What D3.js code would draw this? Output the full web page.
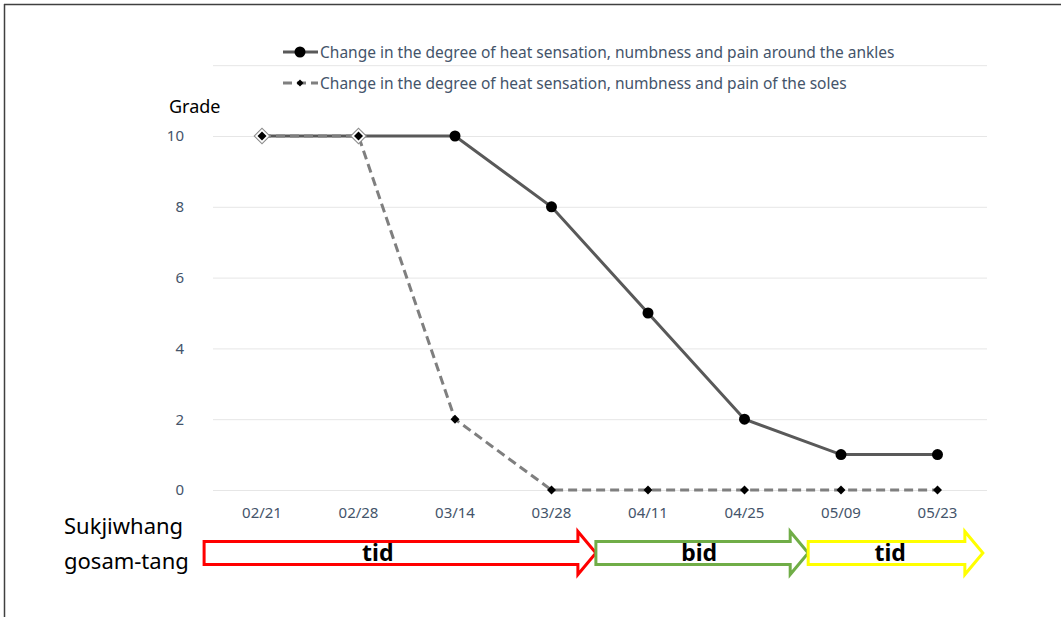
<!DOCTYPE html>
<html>
<head>
<meta charset="utf-8">
<script src="https://cdn.jsdelivr.net/npm/d3@7"></script>
<style>
  html, body { margin: 0; padding: 0; background: #fff; }
  svg { display: block; font-family: "Noto Sans", "Noto Sans CJK KR", sans-serif; }
</style>
</head>
<body>
<svg id="chart" width="1061" height="617"></svg>
<script>
// chart data
const dates = ['02/21', '02/28', '03/14', '03/28', '04/11', '04/25', '05/09', '05/23'];
const ankles = [10, 10, 10, 8, 5, 2, 1, 1];
const soles = [10, 10, 2, 0, 0, 0, 0, 0];
const yTicks = [0, 2, 4, 6, 8, 10];
const seriesNames = [
    'Change in the degree of heat sensation, numbness and pain around the ankles',
    'Change in the degree of heat sensation, numbness and pain of the soles'
];
// dosing phases, in date-index units
const phaseLabels = ['tid', 'bid', 'tid'];
const phaseStart = [-0.6, 3.46, 5.66];
const phaseEnd = [3.46, 5.66, 7.47];
const phaseLabelAt = [1.2, 4.53, 6.51];
const phaseColors = ['#ff0000', '#70ad47', '#ffff00'];

const svg = d3.select('#chart');
const font = '"Noto Sans", "Noto Sans CJK KR", sans-serif';
const tickColor = '#44546a';

// frame (top and left only, as in the picture)
svg.append('line').attr('x1', 4).attr('x2', 1061).attr('y1', 4.5).attr('y2', 4.5)
    .attr('stroke', '#404040').attr('stroke-width', 1.5);
svg.append('line').attr('x1', 4.5).attr('x2', 4.5).attr('y1', 4).attr('y2', 617)
    .attr('stroke', '#404040').attr('stroke-width', 1.5);

const x = d3.scaleBand().domain(dates).range([213.75, 985.75]);
const xi = d3.scaleLinear().domain([0, 1]).range([x(dates[0]) + x.bandwidth() / 2, x(dates[1]) + x.bandwidth() / 2]);
const y = d3.scaleLinear().domain([0, 10]).range([490, 136]);

// gridlines (including the unlabeled 12 line behind the legend)
svg.append('g').selectAll('line')
    .data(yTicks.concat([12]))
    .enter().append('line')
    .attr('x1', 213).attr('x2', 987)
    .attr('y1', d => y(d) + 0.5).attr('y2', d => y(d) + 0.5)
    .attr('stroke', '#e6e6e6').attr('stroke-width', 1);

// y axis labels
const yAxis = svg.append('g')
    .attr('transform', 'translate(189,0)')
    .call(d3.axisLeft(y).tickValues(yTicks).tickSize(0).tickPadding(5));
yAxis.select('.domain').remove();
yAxis.selectAll('text').attr('fill', tickColor).style('font-size', '15px').style('font-family', font);

svg.append('text').attr('x', 169).attr('y', 113).text('Grade')
    .style('font-size', '18px').attr('fill', '#000');

// x axis labels
const xAxis = svg.append('g')
    .attr('transform', 'translate(0,504)')
    .call(d3.axisBottom(x).tickSize(0).tickPadding(3));
xAxis.select('.domain').remove();
xAxis.selectAll('text').attr('fill', tickColor).style('font-size', '15px').style('font-family', font);

const cx = d => x(d) + x.bandwidth() / 2;

// ankles series
const line1 = d3.line().x((d, i) => cx(dates[i])).y(d => y(d));
svg.append('path').datum(ankles)
    .attr('fill', 'none').attr('stroke', '#595959').attr('stroke-width', 3)
    .attr('d', line1);
svg.append('g').selectAll('circle')
    .data(ankles).enter().append('circle')
    .attr('cx', (d, i) => cx(dates[i])).attr('cy', d => y(d))
    .attr('r', 5.5).attr('fill', '#000');

// soles series
svg.append('path').datum(soles)
    .attr('fill', 'none').attr('stroke', '#7f7f7f').attr('stroke-width', 3)
    .attr('stroke-dasharray', '9,5')
    .attr('d', line1);

const diamond = s => `M0,${-s}L${s},0L0,${s}L${-s},0Z`;
const marks2 = svg.append('g').selectAll('g')
    .data(soles).enter().append('g')
    .attr('transform', (d, i) => `translate(${cx(dates[i])},${y(d)})`);
marks2.filter((d, i) => d === ankles[i]).append('path').attr('d', diamond(8.5)).attr('fill', '#8c8c8c');
marks2.filter((d, i) => d === ankles[i]).append('path').attr('d', diamond(7)).attr('fill', '#fff');
marks2.append('path').attr('d', diamond(4.5)).attr('fill', '#000');

// legend
const legend = svg.append('g');
const legY = [52, 83];
legend.append('line').attr('x1', 283).attr('x2', 318).attr('y1', legY[0]).attr('y2', legY[0])
    .attr('stroke', '#595959').attr('stroke-width', 3);
legend.append('circle').attr('cx', 300).attr('cy', legY[0]).attr('r', 5.5).attr('fill', '#000');
legend.append('line').attr('x1', 283).attr('x2', 318).attr('y1', legY[1]).attr('y2', legY[1])
    .attr('stroke', '#7f7f7f').attr('stroke-width', 3).attr('stroke-dasharray', '9,5');
legend.append('path').attr('d', diamond(3.5)).attr('fill', '#000')
    .attr('transform', `translate(300,${legY[1]})`);
legend.selectAll('text').data(seriesNames).enter().append('text')
    .attr('x', 320).attr('y', (d, i) => legY[i] + 5.5)
    .attr('fill', tickColor).style('font-size', '15.5px')
    .text(d => d);

// treatment label
svg.append('text').attr('x', 64).attr('y', 534).text('Sukjiwhang')
    .style('font-size', '22px').attr('fill', '#000');
svg.append('text').attr('x', 64).attr('y', 569).text('gosam-tang')
    .style('font-size', '22px').attr('fill', '#000');

// phase arrows
const arrowY = 553, bodyH = 11.5, headH = 21.5, headL = 18;
phaseLabels.forEach((lab, i) => {
    const x0 = xi(phaseStart[i]), x1 = xi(phaseEnd[i]);
    const pts = [
        [x0, arrowY - bodyH], [x1 - headL, arrowY - bodyH], [x1 - headL, arrowY - headH],
        [x1, arrowY], [x1 - headL, arrowY + headH], [x1 - headL, arrowY + bodyH],
        [x0, arrowY + bodyH]
    ];
    svg.append('path')
        .attr('d', d3.line()(pts) + 'Z')
        .attr('fill', '#fff').attr('stroke', phaseColors[i]).attr('stroke-width', 3);
    svg.append('text')
        .attr('x', xi(phaseLabelAt[i])).attr('y', arrowY + 8)
        .attr('text-anchor', 'middle')
        .style('font-size', '23px').style('font-weight', 'bold')
        .attr('fill', '#000').text(lab);
});
</script>
</body>
</html>
